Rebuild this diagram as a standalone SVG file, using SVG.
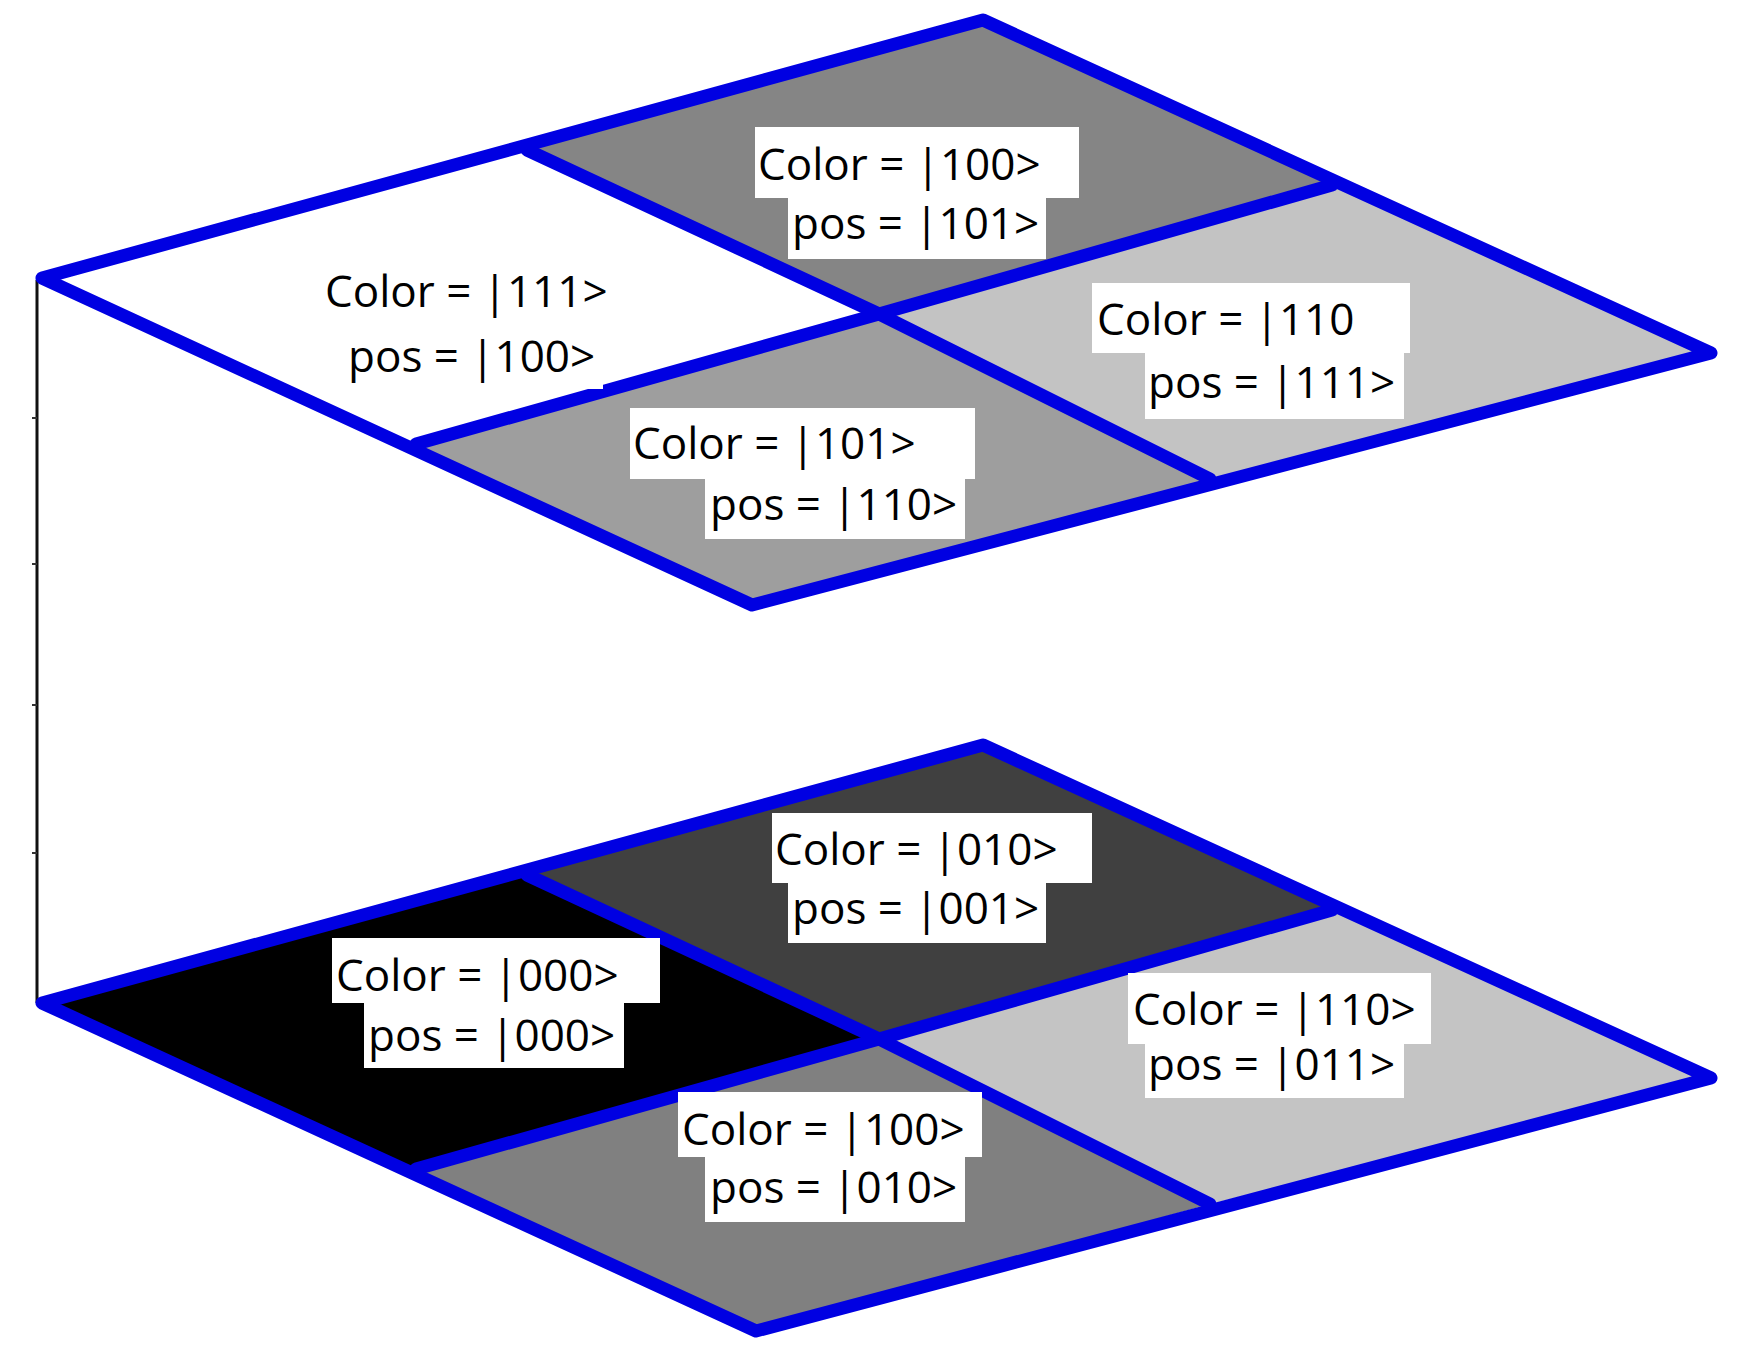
<svg xmlns="http://www.w3.org/2000/svg" width="1758" height="1366" viewBox="0 0 1758 1366">
<style>
.grid{fill:none;stroke:#0000e2;stroke-width:13;stroke-linejoin:round;stroke-linecap:round}
.box{fill:#ffffff}
.lbl{font-family:"Open Sans","Noto Sans",sans-serif;font-size:44px;fill:#000000}
.axis{stroke:#111111;stroke-width:3;fill:none}
.tick{stroke:#333333;stroke-width:2}
</style>
<rect x="0" y="0" width="1758" height="1366" fill="#ffffff"/>

<g id="connectors">
  <line class="axis" x1="37" y1="280" x2="37" y2="1003"/>
  <line class="tick" x1="32" y1="418" x2="37" y2="418"/>
  <line class="tick" x1="32" y1="564" x2="37" y2="564"/>
  <line class="tick" x1="32" y1="705" x2="37" y2="705"/>
  <line class="tick" x1="32" y1="853" x2="37" y2="853"/>
</g>

<!-- Top layer -->
<g id="top-layer">
  <g id="tile-top-111">
    <polygon points="42,278 527,150 879,314 416,444" fill="#ffffff"/>
  </g>
  <g id="tile-top-100">
    <polygon points="527,150 983,20 1332,185 879,314" fill="#858585"/>
  </g>
  <g id="tile-top-110">
    <polygon points="879,314 1332,185 1711,353 1210,479" fill="#c3c3c3"/>
  </g>
  <g id="tile-top-101">
    <polygon points="416,444 879,314 1210,479 752,605" fill="#9e9e9e"/>
  </g>
  <g id="grid-top">
    <polygon class="grid" points="42,278 983,20 1711,353 752,605"/>
    <polyline class="grid" points="527,150 879,314 1210,479"/>
    <polyline class="grid" points="416,444 879,314 1332,185"/>
  </g>
  <g id="label-top-111">
    <rect class="box" x="322" y="266" width="300" height="62"/>
    <rect class="box" x="346" y="328" width="257" height="61"/>
    <text class="lbl" x="325" y="307">Color = |111&gt;</text>
    <text class="lbl" x="348" y="372">pos = |100&gt;</text>
  </g>
  <g id="label-top-100">
    <rect class="box" x="755" y="127" width="324" height="71"/>
    <rect class="box" x="788" y="198" width="258" height="61"/>
    <text class="lbl" x="758" y="180">Color = |100&gt;</text>
    <text class="lbl" x="792" y="239">pos = |101&gt;</text>
  </g>
  <g id="label-top-110">
    <rect class="box" x="1092" y="283" width="318" height="70"/>
    <rect class="box" x="1145" y="353" width="259" height="66"/>
    <text class="lbl" x="1097" y="335">Color = |110</text>
    <text class="lbl" x="1148" y="398">pos = |111&gt;</text>
  </g>
  <g id="label-top-101">
    <rect class="box" x="630" y="408" width="345" height="71"/>
    <rect class="box" x="705" y="479" width="260" height="60"/>
    <text class="lbl" x="633" y="459">Color = |101&gt;</text>
    <text class="lbl" x="710" y="520">pos = |110&gt;</text>
  </g>
</g>

<!-- Bottom layer -->
<g id="bottom-layer">
  <g id="tile-bottom-000">
    <polygon points="42,1003 527,875 879,1039 416,1169" fill="#000000"/>
  </g>
  <g id="tile-bottom-010">
    <polygon points="527,875 983,745 1332,910 879,1039" fill="#404040"/>
  </g>
  <g id="tile-bottom-110">
    <polygon points="879,1039 1332,910 1711,1078 1210,1204" fill="#c4c4c4"/>
  </g>
  <g id="tile-bottom-100">
    <polygon points="416,1169 879,1039 1210,1204 756,1331" fill="#808080"/>
  </g>
  <g id="grid-bottom">
    <polygon class="grid" points="42,1003 983,745 1711,1078 756,1331"/>
    <polyline class="grid" points="527,875 879,1039 1210,1204"/>
    <polyline class="grid" points="416,1169 879,1039 1332,910"/>
  </g>
  <g id="label-bottom-000">
    <rect class="box" x="332" y="938" width="328" height="65"/>
    <rect class="box" x="364" y="1003" width="260" height="65"/>
    <text class="lbl" x="336" y="991">Color = |000&gt;</text>
    <text class="lbl" x="368" y="1051">pos = |000&gt;</text>
  </g>
  <g id="label-bottom-010">
    <rect class="box" x="772" y="813" width="320" height="70"/>
    <rect class="box" x="788" y="883" width="258" height="60"/>
    <text class="lbl" x="775" y="865">Color = |010&gt;</text>
    <text class="lbl" x="792" y="924">pos = |001&gt;</text>
  </g>
  <g id="label-bottom-110">
    <rect class="box" x="1128" y="973" width="303" height="71"/>
    <rect class="box" x="1145" y="1044" width="259" height="54"/>
    <text class="lbl" x="1133" y="1025">Color = |110&gt;</text>
    <text class="lbl" x="1148" y="1080">pos = |011&gt;</text>
  </g>
  <g id="label-bottom-100">
    <rect class="box" x="678" y="1092" width="304" height="65"/>
    <rect class="box" x="705" y="1157" width="260" height="65"/>
    <text class="lbl" x="682" y="1145">Color = |100&gt;</text>
    <text class="lbl" x="710" y="1203">pos = |010&gt;</text>
  </g>
</g>
</svg>
